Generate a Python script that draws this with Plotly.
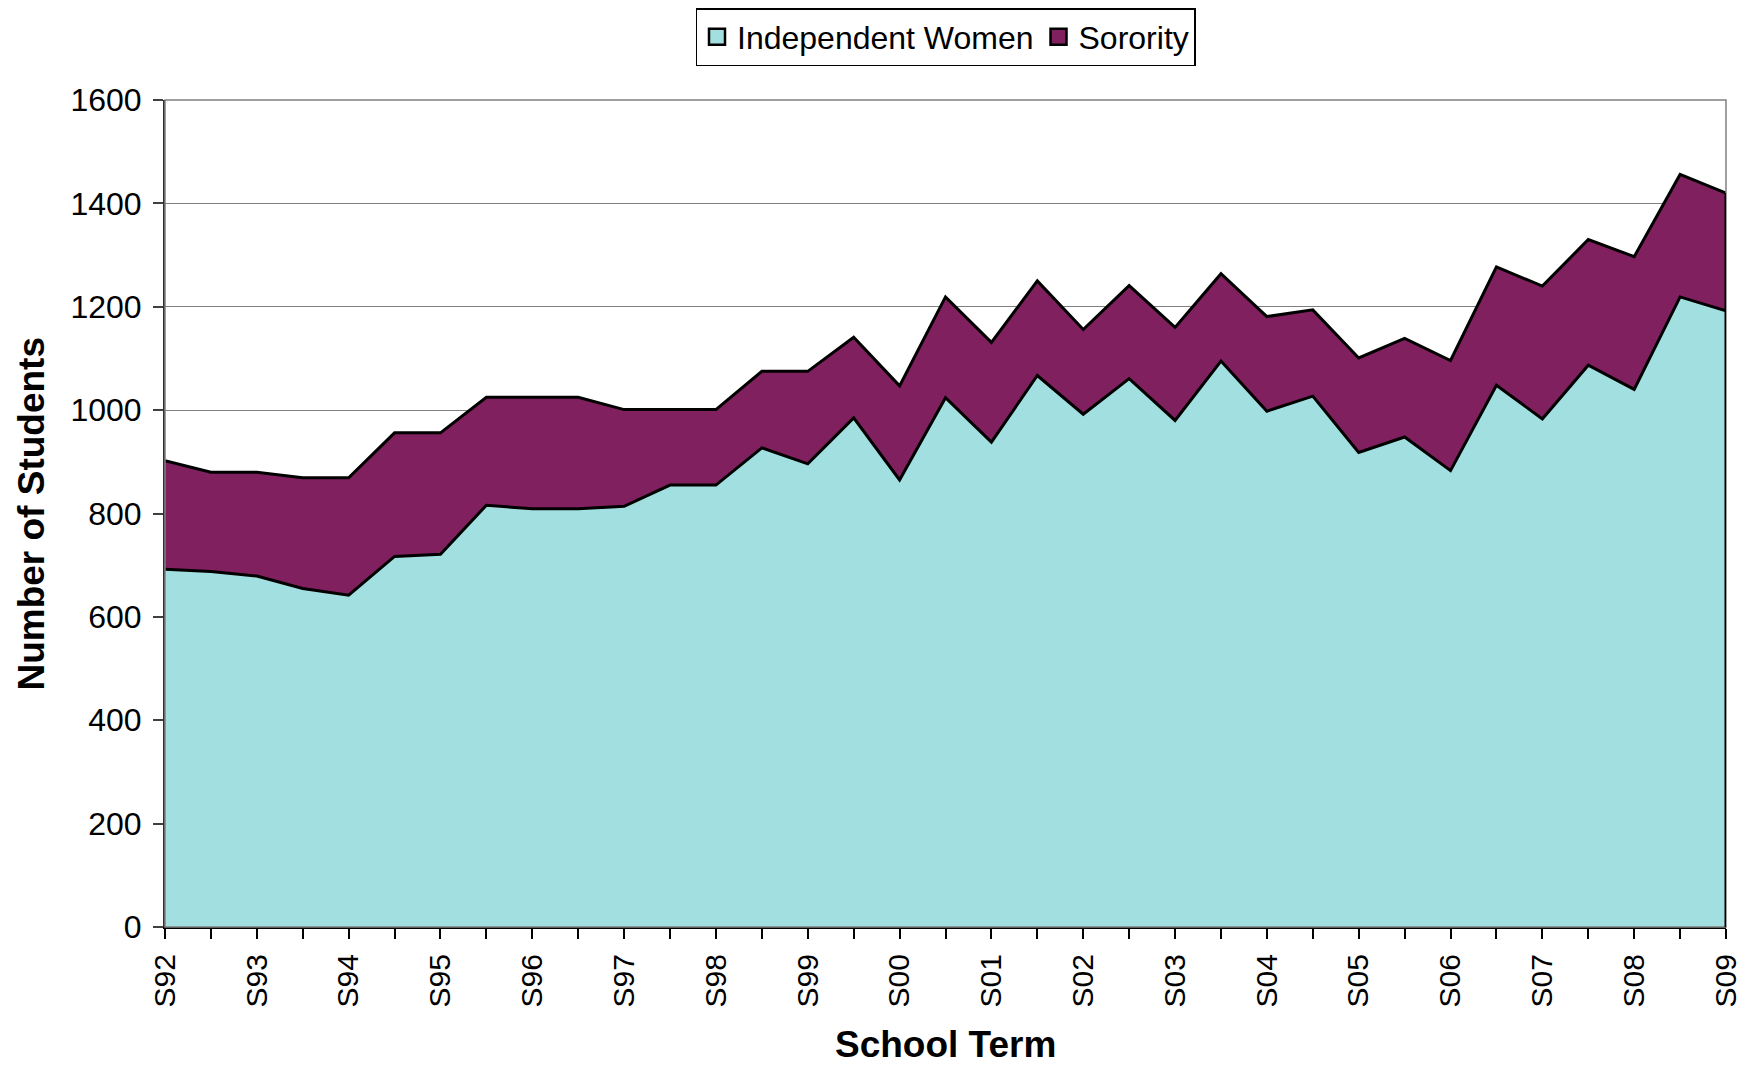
import plotly.graph_objects as go

terms = []
for y in ["92", "93", "94", "95", "96", "97", "98", "99", "00", "01", "02", "03", "04", "05", "06", "07", "08", "09"]:
    terms.append("S" + y)
    if y != "09":
        terms.append("F" + y)

tick_labels = [t if t.startswith("S") else "" for t in terms]

independent_women = [692, 688, 679, 655, 642, 717, 721, 816, 809, 809, 814, 855, 855, 927, 896,
                     985, 865, 1024, 938, 1067, 992, 1061, 980, 1095, 998, 1027, 918, 948, 883,
                     1048, 983, 1087, 1040, 1219, 1192]
sorority = [210, 192, 201, 214, 227, 239, 235, 209, 216, 216, 187, 146, 146, 148, 179,
            156, 182, 195, 193, 183, 164, 180, 180, 169, 183, 167, 183, 191, 213,
            229, 257, 243, 257, 237, 228]

y_ticks = [0, 200, 400, 600, 800, 1000, 1200, 1400, 1600]

series_names = ["Independent Women", "Sorority"]
series_colors = ["#A2DFE0", "#80205F"]

FONT = "Liberation Sans, Arial, sans-serif"

fig = go.Figure()
for name, vals, col in zip(series_names, [independent_women, sorority], series_colors):
    fig.add_trace(go.Scatter(
        x=terms, y=vals, name=name,
        stackgroup="one", mode="lines",
        line=dict(color="black", width=3),
        fillcolor=col, hoverinfo="skip", showlegend=False,
    ))
# legend entries (square swatches)
for name, col in zip(series_names, series_colors):
    fig.add_trace(go.Scatter(
        x=[None], y=[None], name=name, mode="markers",
        marker=dict(symbol="square", size=22, color=col, line=dict(color="black", width=2.5)),
        showlegend=True,
    ))

fig.update_layout(
    width=1745, height=1060,
    margin=dict(l=157, r=27, t=92, b=141),
    paper_bgcolor="white", plot_bgcolor="white",
    font=dict(family=FONT, color="black"),
    showlegend=True,
    legend=dict(
        orientation="h", x=0.5, xanchor="center", xref="paper",
        y=1.0, yanchor="top", yref="container",
        bordercolor="black", borderwidth=1.5, bgcolor="white",
        font=dict(size=32, family=FONT),
        traceorder="normal", itemwidth=30, tracegroupgap=0,
    ),
    xaxis=dict(
        type="category", categoryorder="array", categoryarray=terms,
        range=[0, len(terms) - 1], automargin=False,
        tickmode="array", tickvals=terms, ticktext=tick_labels,
        tickangle=-90, tickfont=dict(size=30, family=FONT),
        ticks="outside", ticklen=10, tickcolor="black", tickwidth=1.5,
        showline=True, linecolor="black", linewidth=2,
        showgrid=False, zeroline=False, ticklabelstandoff=3,
    ),
    yaxis=dict(
        range=[0, 1600], tickmode="array", tickvals=y_ticks, automargin=False,
        tickfont=dict(size=32, family=FONT),
        ticks="outside", ticklen=10, tickcolor="#404040", tickwidth=1.5,
        showline=True, linecolor="#303030", linewidth=2,
        showgrid=True, gridcolor="#808080", gridwidth=1.3,
        zeroline=False, ticklabelstandoff=5,
    ),
    annotations=[
        dict(text="<b>School Term</b>", xref="paper", yref="paper", x=0.5, y=-0.1417,
             xanchor="center", yanchor="middle", showarrow=False,
             font=dict(size=37, family=FONT)),
        dict(text="<b>Number of Students</b>", xref="paper", yref="paper", x=-0.0858, y=0.5,
             xanchor="center", yanchor="middle", showarrow=False, textangle=-90,
             font=dict(size=37, family=FONT)),
    ],
)

fig.add_shape(type="rect", xref="paper", yref="paper", x0=0, x1=1, y0=0, y1=1,
              line=dict(color="#808080", width=1.5), fillcolor="rgba(0,0,0,0)", layer="above")
# closing edge of the stacked area at the last term
fig.add_shape(type="line", xref="x", yref="y", x0=terms[-1], x1=terms[-1],
              y0=0, y1=independent_women[-1] + sorority[-1],
              line=dict(color="black", width=3), layer="above")

fig.write_html("out.html")
